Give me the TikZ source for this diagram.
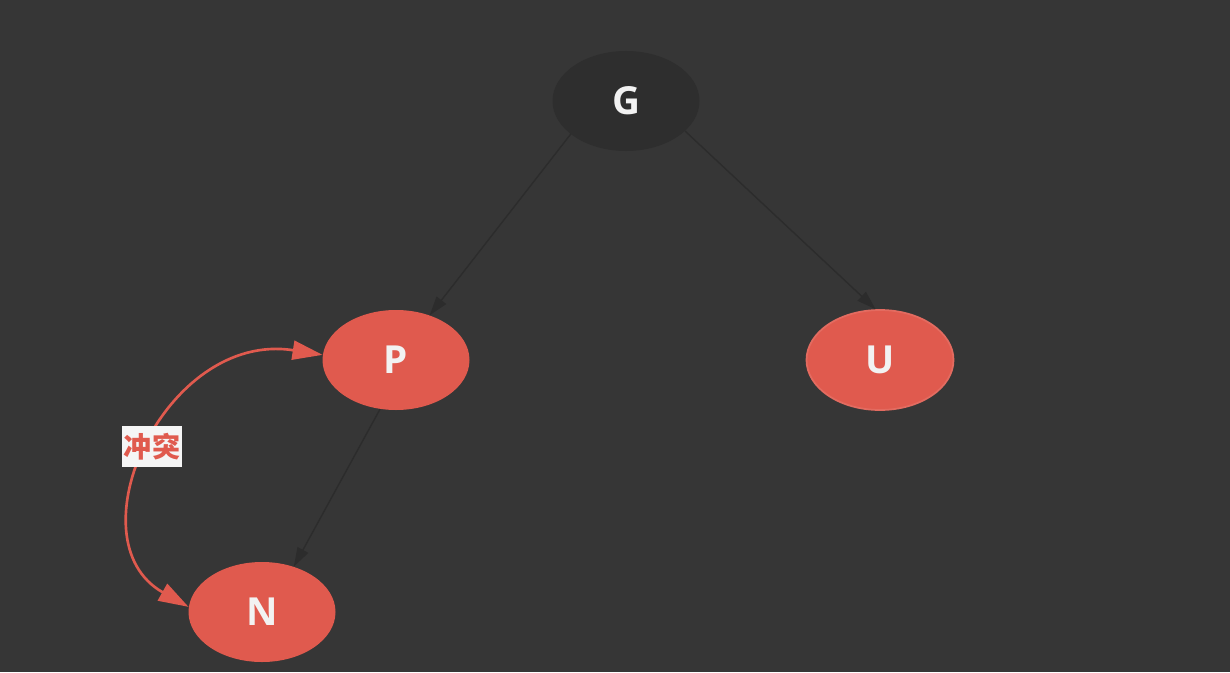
\documentclass[tikz,border=0pt]{standalone}
\usepackage{fontspec}
\setmainfont{Open Sans}
\newfontfamily\cjk{Noto Sans CJK SC}
\usetikzlibrary{arrows.meta,shapes.geometric}
\definecolor{bgcol}{HTML}{363636}
\definecolor{blackfill}{HTML}{2E2E2E}
\definecolor{redfill}{HTML}{E05A4E}
\definecolor{edgecol}{HTML}{2C2C2C}
\definecolor{txtcol}{HTML}{F2F2F2}
\begin{document}
\begin{tikzpicture}
\fill[bgcol] (0,0) rectangle (24.6,13.44);
\useasboundingbox (0,0) rectangle (24.6,13.44);

\tikzset{rbnode/.style={ellipse,minimum width=2.94cm,minimum height=2.0cm,inner sep=0pt,text=txtcol,font=\bfseries\fontsize{22}{24}\selectfont}};
\tikzset{blacknode/.style={rbnode,fill=blackfill}};
\tikzset{rednode/.style={rbnode,fill=redfill}};
\tikzset{link/.style={-{Triangle[length=0.38cm,width=0.24cm]},draw=edgecol,line width=0.8pt}};
\tikzset{conflict/.style={{Triangle[length=0.6cm,width=0.38cm]}-{Triangle[length=0.6cm,width=0.38cm]},draw=redfill,line width=1.5pt}};
\tikzset{tag/.style={fill=white!96!black,text=redfill,inner xsep=1pt,inner ysep=4pt,font=\cjk\bfseries\fontsize{16}{17}\selectfont}};

\node[blacknode] (G) at (12.52, 11.42) {G};
\node[rednode] (P) at (7.92, 6.24) {P};
\node[rednode,draw=redfill!90!white,line width=1pt] (U) at (17.60, 6.24) {U};
\node[rednode] (N) at (5.24, 1.20) {N};

\path (G.211) edge [link] (P.53);
\path (G.333) edge [link] (U.95);
\path (P.252) edge [link] (N.55);

\draw[conflict] (N.176) .. controls (1.4,2.64) and (3.3,6.84) .. node[tag] {冲突} (P.176);
\end{tikzpicture}
\end{document}
